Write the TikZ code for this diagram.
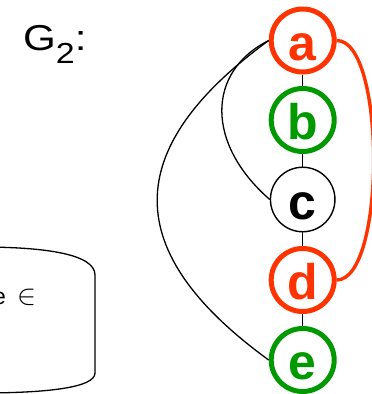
\documentclass[tikz,border=0pt]{standalone}
\usepackage{fontspec}
\setmainfont{Liberation Sans}
\definecolor{vred}{RGB}{255,51,0}
\definecolor{vgreen}{RGB}{0,153,0}
\begin{document}
\begin{tikzpicture}[x=1pt,y=-1pt,
  vert/.style={circle,draw,fill=white,inner sep=0pt,minimum size=63pt,line width=5pt,
    font=\fontsize{50}{50}\selectfont\bfseries,text height=39pt,text depth=0pt},
  redv/.style={vert,draw=vred,text=vred},
  greenv/.style={vert,draw=vgreen,text=vgreen},
  blackv/.style={vert,draw=black,line width=1.4pt,minimum size=64.5pt},
  edge/.style={line width=1.3pt,black},
  redge/.style={line width=3.4pt,vred},
  boxline/.style={line width=1.3pt,black}]
\useasboundingbox (0,0) rectangle (372,394);
\begin{scope}
\clip (0,0) rectangle (372,394);
% label
\node[anchor=base west,inner sep=0pt,font=\fontsize{36}{36}\selectfont] (g2) at (23,50)
  {\scalebox{1.17}[1]{G\raisebox{-13pt}{\fontsize{29}{29}\selectfont 2}:}};
% partial box on the left
\draw[boxline] (-20,247) .. controls (45,247) and (95,254) .. (95,275)
  -- (95,373) .. controls (95,388) and (45,393) .. (-20,393);
\node[anchor=base west,inner sep=0pt,font=\fontsize{23}{23}\selectfont] (elem) at (-7,304.5)
  {e\hspace{12pt}\resizebox{19pt}{!}{$\in$}};
% vertices
\node[redv] (a) at (302.7,40.5) {a};
\node[greenv] (b) at (302.7,120) {b};
\node[blackv] (c) at (302.7,199.5) {c};
\node[redv] (d) at (302.7,280) {d};
\node[greenv] (e) at (302.7,360) {e};
% straight edges
\draw[edge] (a) -- (b);
\draw[edge] (b) -- (c);
\draw[edge] (c) -- (d);
\draw[edge] (d) -- (e);
% curved edges
\draw[edge] (a.west) .. controls (206,72) and (206,144) .. (c.west);
\draw[edge] (a.west) .. controls (120,149) and (120,252) .. (e.west);
\draw[redge] (a.east) .. controls (386,40) and (386,280) .. (d.east);
\end{scope}
\end{tikzpicture}
\end{document}
